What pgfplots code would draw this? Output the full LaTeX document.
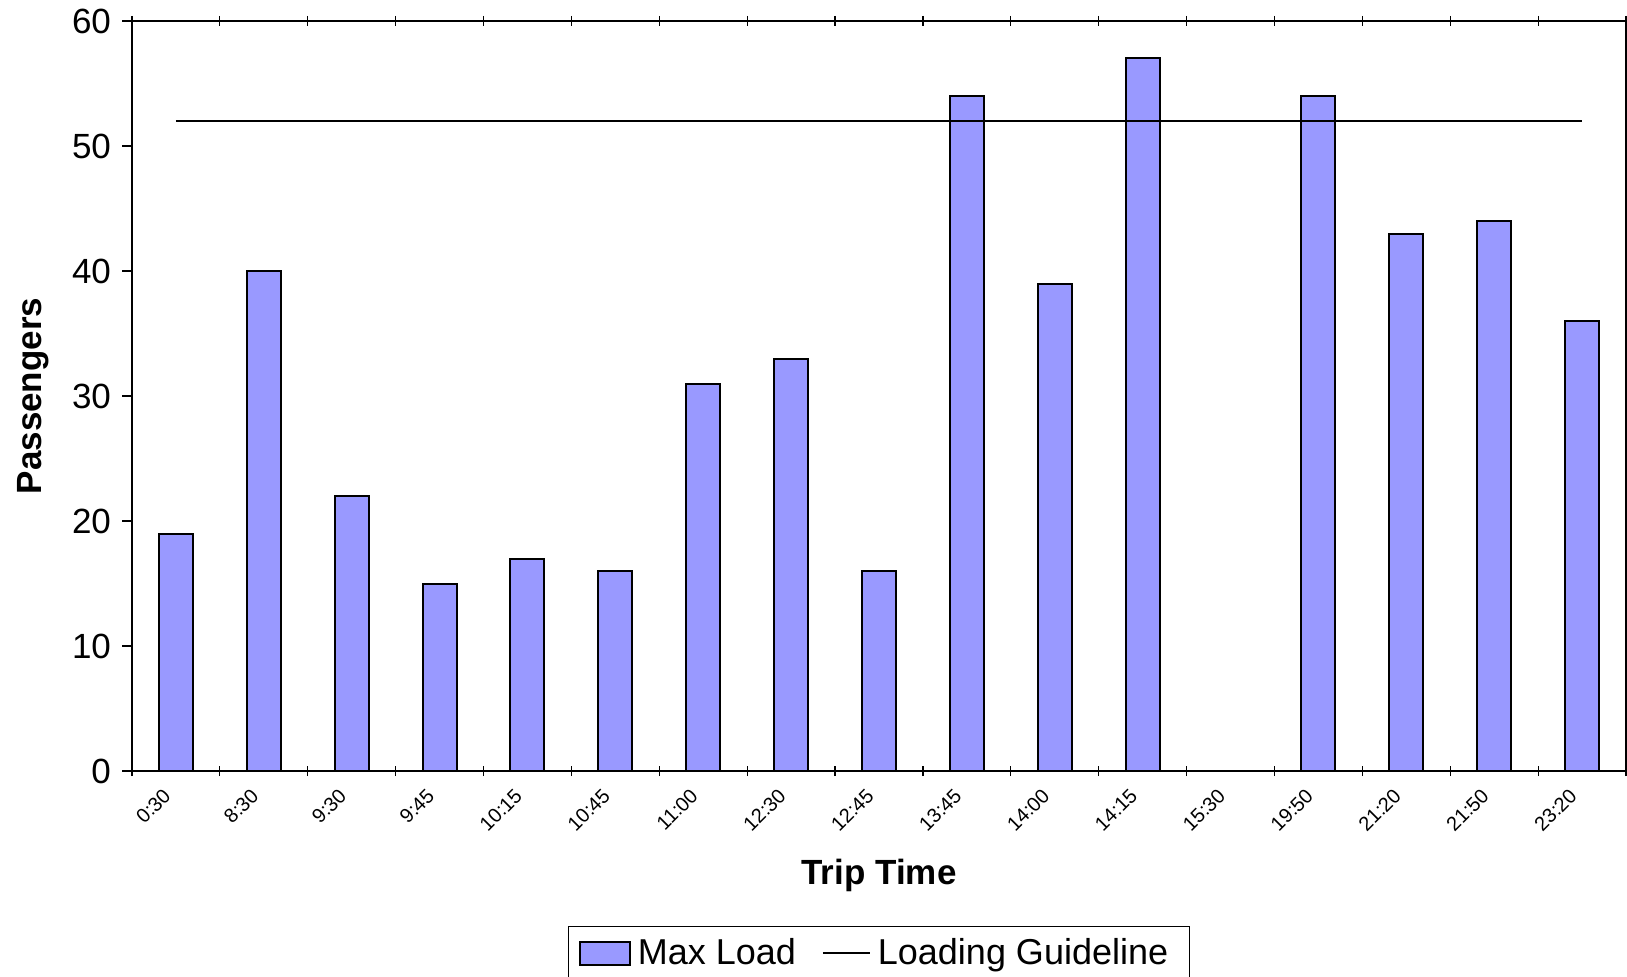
\documentclass[border=0pt]{standalone}
\usepackage{fontspec}
\setmainfont{Liberation Sans}
\usepackage{pgfplots}
\pgfplotsset{compat=1.18}
\definecolor{barblue}{RGB}{153,153,255}
\begin{document}
\begin{tikzpicture}
\begin{axis}[
  at={(0,0)}, anchor=south west,
  width=747pt, height=375pt, scale only axis,
  xmin=-0.5, xmax=16.5, ymin=0, ymax=60,
  ytick={0,10,...,60},
  xtick={0,...,16},
  xticklabels={0:30,8:30,9:30,9:45,10:15,10:45,11:00,12:30,12:45,13:45,14:00,14:15,15:30,19:50,21:20,21:50,23:20},
  minor xtick={-0.5,0.5,...,16.5},
  major x tick style={draw=none},
  xtick align=center,
  ytick align=outside,
  major tick length=5pt,
  minor tick length=5pt,
  tick style={black, line width=0.6pt},
  axis line style={line width=1pt},
  /pgf/number format/assume math mode=true,
  yticklabel style={font=\fontsize{17.5}{20}\selectfont, xshift=-2pt},
  xticklabel style={font=\fontsize{10}{12}\selectfont, xshift=-2pt, yshift=-5.7pt, rotate=45, anchor=east},
  every axis y label/.style={at={(axis description cs:-0.066,0.5)}, rotate=90, anchor=center, font=\fontsize{17.5}{20}\selectfont\bfseries},
  every axis x label/.style={at={(axis description cs:0.5,-0.1387)}, anchor=center, font=\fontsize{17.5}{20}\selectfont\bfseries},
  xlabel={Trip Time},
  ylabel={Passengers},
  legend columns=-1,
  legend style={at={(axis description cs:0.5,-0.2067)}, anchor=north,
    draw=black, line width=0.5pt, font=\fontsize{18}{21}\selectfont,
    inner xsep=5pt, inner ysep=4pt,
    nodes={inner xsep=0pt, inner ysep=2pt},
    /tikz/every odd column/.append style={column sep=3.5pt},
    /tikz/every even column/.append style={column sep=13pt}},
]
\addplot[ybar, bar width=17pt, fill=barblue, draw=black, line width=1pt,
  legend image code/.code={\draw[fill=barblue, draw=black, line width=1pt] (0pt,-5.75pt) rectangle (25pt,5.75pt);}]
  coordinates {(0,19)(1,40)(2,22)(3,15)(4,17)(5,16)(6,31)(7,33)(8,16)(9,54)(10,39)(11,57)(13,54)(14,43)(15,44)(16,36)};
\addlegendentry{Max Load}
\addplot[black, line width=1pt, mark=none,
  legend image code/.code={\draw[black, line width=1pt] (0pt,0pt) -- (23.5pt,0pt);}]
  coordinates {(0,52)(1,52)(2,52)(3,52)(4,52)(5,52)(6,52)(7,52)(8,52)(9,52)(10,52)(11,52)(12,52)(13,52)(14,52)(15,52)(16,52)};
\addlegendentry{Loading Guideline\hspace*{5.5pt}}
\end{axis}
\pgfresetboundingbox
\path[use as bounding box] (-66pt,-102.5pt) rectangle (747.5pt,385.5pt);
\end{tikzpicture}
\end{document}
